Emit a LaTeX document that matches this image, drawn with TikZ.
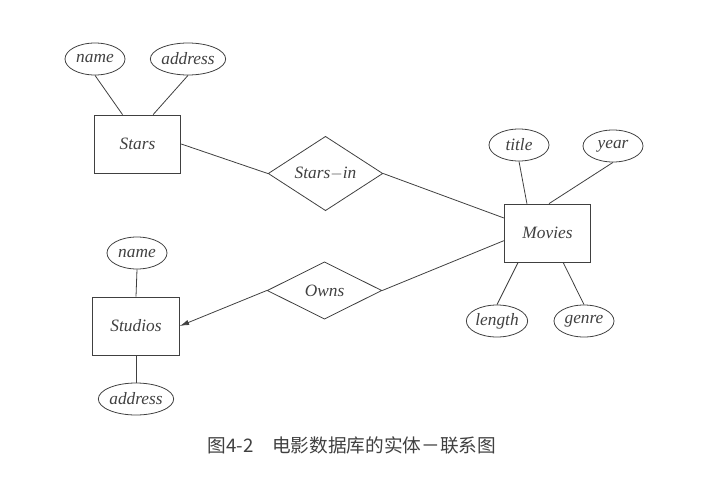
\documentclass[tikz,border=0pt]{standalone}
\usepackage{fontspec}
\setmainfont{Liberation Serif}
\newfontfamily\cjk{Noto Sans CJK SC}
\usetikzlibrary{shapes.geometric, arrows.meta}

\begin{document}
\begin{tikzpicture}[x=0.75pt, y=-0.75pt, color=black!75, line width=0.6pt,
            entity/.style={rectangle, draw, minimum width=65pt, minimum height=43.5pt},
            attr/.style={ellipse, draw, minimum width=45pt, minimum height=24pt, inner sep=0pt},
            rel/.style={diamond, draw, minimum width=86pt, minimum height=43pt, inner sep=0pt}]
        \tikzstyle{every node}=[font=\fontsize{13}{15}\selectfont\itshape]
        \useasboundingbox (0,0) rectangle (703,479);
        \node[entity] (stars) at (137.5,144) {Stars};
        \node[entity] (movies) at (547.5,233) {Movies};
        \node[entity] (studios) at (136,326) {Studios};
        \node[rel] (starsin) at (325.5,173.5) {Stars$-$in};
        \node[rel] (owns) at (324.5,290.5) {Owns};
        \node[attr] (starname) at (95,59) {name};
        \node[attr] (staraddr) at (188,59) {address};
        \node[attr] (title) at (519,145) {title};
        \node[attr] (year) at (613,146) {year};
        \node[attr] (length) at (497,321) {length};
        \node[attr] (genre) at (584,321) {genre};
        \node[attr] (studname) at (137,253) {name};
        \node[attr] (studaddr) at (136,399) {address};
        \draw (starname.south) -- (stars.117);
        \draw (staraddr.south) -- (stars.62);
        \draw (stars.east) -- (starsin.west);
        \draw (starsin.east) -- (movies.161);
        \draw (owns.east) -- (movies.190);
        \draw[-{Latex[length=7pt,width=4pt]}] (owns.west) -- (studios.east);
        \draw (title.south) -- (movies.125);
        \draw (year.south) -- (movies.87);
        \draw (movies.225) -- (length.north);
        \draw (movies.298) -- (genre.north);
        \draw (studname.south) -- (studios.north);
        \draw (studios.south) -- (studaddr.north);
        \node[font=\cjk\fontsize{14}{16}\selectfont] (caption) at (352,445) {图4-2\quad 电影数据库的实体－联系图};
    \end{tikzpicture}
\end{document}
